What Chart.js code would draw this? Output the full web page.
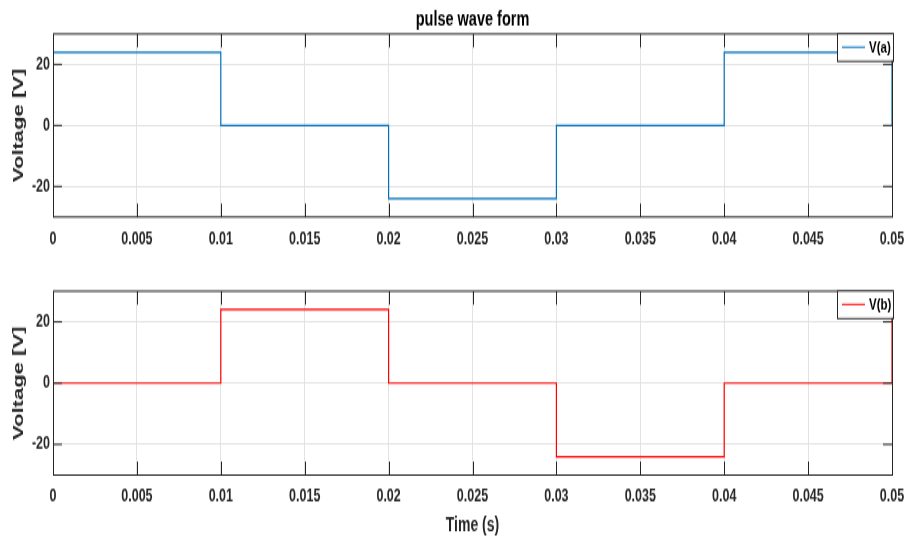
<!DOCTYPE html>
<html><head><meta charset="utf-8">
<script src="https://cdn.jsdelivr.net/npm/chart.js@4.4.0/dist/chart.umd.min.js"></script>
<style>
html,body{margin:0;padding:0;background:#fff;width:908px;height:539px;overflow:hidden;}
.wrap{position:absolute;left:0;width:908px;transform-origin:0 0;transform:scaleY(1.42);}
#w1{top:0;}
#w2{top:250px;}
canvas{display:block;}
</style></head><body>
<div class="wrap" id="w1"><canvas id="c1" width="908" height="176"></canvas></div>
<div class="wrap" id="w2"><canvas id="c2" width="908" height="204"></canvas></div>
<script>
// ---- data ----
const timeBreaks = [0, 0.01, 0.02, 0.03, 0.04, 0.05];
const voltageA = [24, 0, -24, 0, 24, 0];
const voltageB = [0, 24, 0, -24, 0, 24];
const xTickValues = [0, 0.005, 0.01, 0.015, 0.02, 0.025, 0.03, 0.035, 0.04, 0.045, 0.05];
const xTickLabels = ['0', '0.005', '0.01', '0.015', '0.02', '0.025', '0.03', '0.035', '0.04', '0.045', '0.05'];
const yTickValues = [-20, 0, 20];
const yTickLabels = ['-20', '0', '20'];
const seriesNames = ['V(a)', 'V(b)'];
const seriesColors = ['#0072BD', '#FF0000'];
const chartTitle = 'pulse wave form';
const yAxisTitle = 'Voltage [V]';
const xAxisTitle = 'Time (s)';

const FW = "'Liberation Sans', Arial, sans-serif";
const AX = '#262626';

const axesBox = {
  id: 'axesBox',
  afterDatasetsDraw(chart, args, opts) {
    const {ctx, chartArea: {left, right, top, bottom}, scales: {x, y}} = chart;
    ctx.save();
    ctx.strokeStyle = AX; ctx.lineWidth = 1;
    ctx.beginPath();
    x.ticks.forEach(t => {
      const px = Math.round(x.getPixelForValue(t.value)) + 0.5;
      ctx.moveTo(px, top); ctx.lineTo(px, top + 9.5);
      ctx.moveTo(px, bottom); ctx.lineTo(px, bottom - 9.5);
    });
    y.ticks.forEach(t => {
      const py = y.getPixelForValue(t.value);
      ctx.moveTo(left, py); ctx.lineTo(left + 9, py);
      ctx.moveTo(right, py); ctx.lineTo(right - 9, py);
    });
    ctx.stroke();
    ctx.strokeRect(Math.round(left) + 0.5, top, Math.round(right - left), bottom - top);
    ctx.restore();
  }
};

const boxLegend = {
  id: 'boxLegend',
  afterDraw(chart) {
    const {ctx, chartArea} = chart;
    const ds = chart.data.datasets[0];
    ctx.save();
    ctx.font = 'bold 11.5px ' + FW;
    const tw = ctx.measureText(ds.label).width;
    const w = Math.round(tw + 34), h = 19.5;
    const x1 = Math.round(chartArea.right) + 1 - w;
    const y1 = chartArea.top - 0.7;
    ctx.fillStyle = '#fff';
    ctx.fillRect(x1, y1, w, h);
    ctx.strokeStyle = AX; ctx.lineWidth = 1;
    ctx.strokeRect(x1 + 0.5, y1 + 0.5, w, h);
    ctx.strokeStyle = ds.borderColor; ctx.lineWidth = 1;
    ctx.beginPath();
    ctx.moveTo(x1 + 5, y1 + 10); ctx.lineTo(x1 + 28, y1 + 10);
    ctx.stroke();
    ctx.fillStyle = '#000';
    ctx.textBaseline = 'middle';
    ctx.textAlign = 'left';
    ctx.fillText(ds.label, x1 + 32, y1 + 10.5);
    ctx.restore();
  }
};

function makeChart(id, values, idx, withTitle, withXTitle) {
  const pts = timeBreaks.map((t, i) => ({x: t, y: values[i]}));
  return new Chart(document.getElementById(id), {
    type: 'line',
    data: {datasets: [{
      label: seriesNames[idx], data: pts, borderColor: seriesColors[idx],
      backgroundColor: seriesColors[idx], borderWidth: 1.2, stepped: true,
      pointRadius: 0, fill: false
    }]},
    options: {
      responsive: false, animation: false, devicePixelRatio: 1,
      layout: {padding: {left: 0, right: 16, top: withTitle ? 0 : 29, bottom: 0}},
      plugins: {
        legend: {display: false}, tooltip: {enabled: false},
        title: {display: withTitle, text: chartTitle, fullSize: false,
          font: {family: FW, size: 14.5, weight: 'bold'}, color: '#000',
          padding: {top: 5, bottom: 1.5}}
      },
      scales: {
        x: {
          type: 'linear', min: 0, max: 0.05,
          afterBuildTicks: s => { s.ticks = xTickValues.map(v => ({value: v})); },
          afterFit: s => { s.height = withXTitle ? 45.5 : 23.2; s.paddingLeft = 0; s.paddingRight = 0; },
          ticks: {callback: (v, i) => xTickLabels[i], font: {family: FW, size: 12.5, weight: 'bold'},
            color: AX, padding: 8, maxRotation: 0, autoSkip: false},
          grid: {color: '#e3e3e3', drawTicks: false, lineWidth: 1},
          border: {display: false},
          title: {display: withXTitle, text: xAxisTitle, font: {family: FW, size: 14, weight: 'bold'},
            color: AX, padding: {top: 0, bottom: 1.2}}
        },
        y: {
          type: 'linear', min: -30, max: 30,
          afterBuildTicks: s => { s.ticks = yTickValues.map(v => ({value: v})); },
          afterFit: s => { s.width = 53; },
          ticks: {callback: (v, i) => yTickLabels[i], font: {family: FW, size: 12.5, weight: 'bold'},
            color: AX, padding: 3},
          grid: {color: '#e3e3e3', drawTicks: false, lineWidth: 1},
          border: {display: false},
          title: {display: true, text: yAxisTitle, font: {family: FW, size: 15.5, weight: 'bold'},
            color: AX, padding: {top: 9, bottom: 0}}
        }
      }
    },
    plugins: [axesBox, boxLegend]
  });
}

makeChart('c1', voltageA, 0, true, false);
makeChart('c2', voltageB, 1, false, true);
</script>
</body></html>
